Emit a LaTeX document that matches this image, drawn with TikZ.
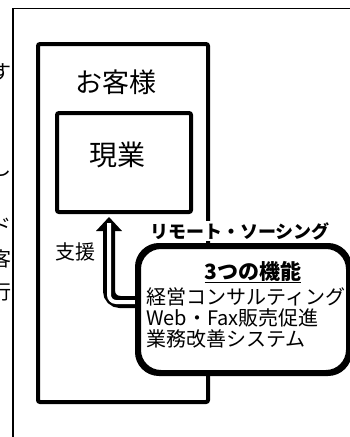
\documentclass[tikz,border=0pt]{standalone}
\usepackage{fontspec}
\setmainfont{Noto Sans CJK JP}
\tikzset{
  thickbox/.style={draw, line width=4pt, rounded corners=2pt, inner sep=0pt},
  lbl/.style={inner sep=0pt, font=\fontsize{20}{22}\selectfont},
  edgechar/.style={inner sep=0pt, font=\fontsize{20}{22}\selectfont},
}
\begin{document}
\begin{tikzpicture}[x=1pt,y=-1pt]
\useasboundingbox (0,0) rectangle (350,437);
% clipped text at left edge
\begin{scope}
  \clip (0,0) rectangle (12.3,437);
  \node[edgechar] (e1) at (1,72) {す};
  \node[edgechar] (e2) at (1,168) {し};
  \node[edgechar] (e3) at (1,226) {ド};
  \node[edgechar] (e4) at (1,259) {客};
  \node[edgechar] (e5) at (1,292) {行};
\end{scope}
% page frame
\coordinate (fb) at (13,437);
\coordinate (fc) at (13,8.5);
\coordinate (fr) at (350,8.5);
\draw[line width=1.3pt] (fb) -- (fc) -- (fr);
% customer box
\node[thickbox, minimum width=170pt, minimum height=358pt] (cust) at (123,223) {};
\node[lbl, font=\fontsize{27}{29}\selectfont] (custtxt) at (116,82) {お客様};
% current business box
\node[thickbox, minimum width=134pt, minimum height=99pt] (biz) at (124,162.5) {};
\node[lbl, font=\fontsize{28}{30}\selectfont] (biztxt) at (117,155) {現業};
% support arrow
\node[lbl] (support) at (76,252) {支援};
\coordinate (tipbase) at (109,231);
\coordinate (tip) at (109,217);
\coordinate (hl) at (96,231);
\coordinate (hr) at (122,231);
\coordinate (inner) at (109,223);
% remote sourcing box
\node[draw, line width=4pt, rounded corners=22pt, fill=white, minimum width=209pt, minimum height=125pt] (fn) at (243.5,309.5) {};
\draw[line width=12pt, rounded corners=11pt] ([yshift=7.5pt]fn.west) -| (tipbase);
\fill (hl) -- (tip) -- (hr) -- cycle;
\draw[white, line width=4pt, rounded corners=7pt] ([yshift=7.5pt,xshift=-2pt]fn.west) -| (inner);
\draw[line width=4pt, rounded corners=22pt] (fn.north west) rectangle (fn.south east);
\node[lbl, font=\fontsize{18}{20}\selectfont\bfseries, fill=white, inner sep=1pt] (rs) at (240,231) {リモート・ソーシング};
\node[lbl, font=\fontsize{21}{23}\selectfont\bfseries] (fntitle) at (253,272) {\underline{3つの機能}};
\node[lbl, anchor=west, font=\fontsize{20}{22}\selectfont] (f1) at (146,297) {経営コンサルティング};
\node[lbl, anchor=west, font=\fontsize{20}{22}\selectfont] (f2) at (146,318) {Web・Fax販売促進};
\node[lbl, anchor=west, font=\fontsize{20}{22}\selectfont] (f3) at (146,339) {業務改善システム};
\end{tikzpicture}
\end{document}
